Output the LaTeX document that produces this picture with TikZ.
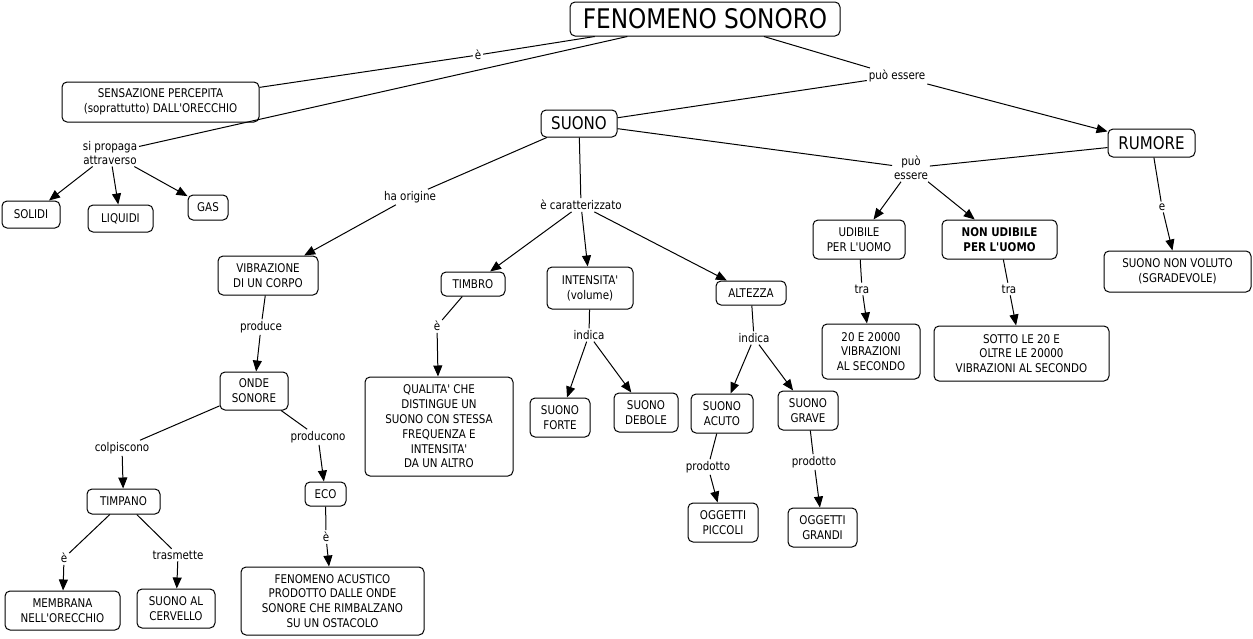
\documentclass[tikz,border=0pt]{standalone}
\usepackage{fontspec}
\setmainfont{DejaVu Sans}[FakeStretch=0.86, Ligatures=TeXOff]
\usetikzlibrary{arrows.meta}
\begin{document}
\begin{tikzpicture}[x=1pt,y=-1pt,line width=1pt,
  concept/.style={draw, rounded corners=5pt, fill=white, align=center, inner sep=1pt,
    font=\fontsize{12}{14.8}\selectfont},
  lbl/.style={inner sep=1.5pt, align=center, font=\fontsize{12}{13.8}\selectfont},
  arr/.style={-{Triangle[length=11pt,width=9pt]}}]
\useasboundingbox (0,0) rectangle (1253,638);
% concepts
\node[concept, minimum width=270, minimum height=34, font=\fontsize{27}{30}\selectfont] (title) at (705,19) {FENOMENO SONORO};
\node[concept, minimum width=197, minimum height=40] (sens) at (160.5,102) {SENSAZIONE PERCEPITA\\(soprattutto) DALL'ORECCHIO};
\node[concept, minimum width=76, minimum height=27, font=\fontsize{17.5}{20}\selectfont] (suono) at (579,123.5) {SUONO};
\node[concept, minimum width=87, minimum height=28, font=\fontsize{17.5}{20}\selectfont] (rumore) at (1151.5,143) {RUMORE};
\node[concept, minimum width=58, minimum height=27] (solidi) at (31,214.5) {SOLIDI};
\node[concept, minimum width=65, minimum height=27] (liquidi) at (120.5,218.5) {LIQUIDI};
\node[concept, minimum width=40, minimum height=25] (gas) at (208,207.5) {GAS};
\node[concept, minimum width=100, minimum height=39] (vibr) at (268,275.5) {VIBRAZIONE\\DI UN CORPO};
\node[concept, minimum width=64, minimum height=24] (timbro) at (473,284) {TIMBRO};
\node[concept, minimum width=86, minimum height=42] (intens) at (590,288) {INTENSITA'\\(volume)};
\node[concept, minimum width=70, minimum height=24] (altezza) at (751,293) {ALTEZZA};
\node[concept, minimum width=92, minimum height=39] (udibile) at (859,239.5) {UDIBILE\\PER L'UOMO};
\node[concept, minimum width=115, minimum height=39, font=\fontsize{12}{14.8}\selectfont\bfseries] (nonud) at (999.5,239.5) {NON UDIBILE\\PER L'UOMO};
\node[concept, minimum width=147, minimum height=41] (sgrad) at (1177.5,271.5) {SUONO NON VOLUTO\\(SGRADEVOLE)};
\node[concept, minimum width=68, minimum height=38] (onde) at (254,391) {ONDE\\SONORE};
\node[concept, minimum width=148, minimum height=99] (qualita) at (439,426.5) {QUALITA' CHE\\DISTINGUE UN\\SUONO CON STESSA\\FREQUENZA E\\INTENSITA'\\DA UN ALTRO};
\node[concept, minimum width=60, minimum height=39] (forte) at (560,417.5) {SUONO\\FORTE};
\node[concept, minimum width=64, minimum height=39] (debole) at (646,412.5) {SUONO\\DEBOLE};
\node[concept, minimum width=62, minimum height=39] (acuto) at (722,413.5) {SUONO\\ACUTO};
\node[concept, minimum width=60, minimum height=39] (grave) at (808,410.5) {SUONO\\GRAVE};
\node[concept, minimum width=98, minimum height=55] (venti) at (871,351.5) {20 E 20000\\VIBRAZIONI\\AL SECONDO};
\node[concept, minimum width=175, minimum height=55] (sotto) at (1021.5,353.5) {SOTTO LE 20 E\\OLTRE LE 20000\\VIBRAZIONI AL SECONDO};
\node[concept, minimum width=73, minimum height=25] (timpano) at (123.5,501.5) {TIMPANO};
\node[concept, minimum width=41, minimum height=24] (eco) at (325.5,494) {ECO};
\node[concept, minimum width=115, minimum height=39] (membrana) at (62.5,610.5) {MEMBRANA\\NELL'ORECCHIO};
\node[concept, minimum width=78, minimum height=39] (cervello) at (176,608.5) {SUONO AL\\CERVELLO};
\node[concept, minimum width=183, minimum height=68] (fenac) at (332.5,601) {FENOMENO ACUSTICO\\PRODOTTO DALLE ONDE\\SONORE CHE RIMBALZANO\\SU UN OSTACOLO};
\node[concept, minimum width=70, minimum height=39] (piccoli) at (723,522.5) {OGGETTI\\PICCOLI};
\node[concept, minimum width=69, minimum height=39] (grandi) at (822.5,527.5) {OGGETTI\\GRANDI};
% linking phrases
\node[lbl] (lE1) at (478,55) {è};
\node[lbl] (lProp) at (110,153) {si propaga\\attraverso};
\node[lbl] (lPuo1) at (897,76) {può essere};
\node[lbl] (lPuo2) at (911,168) {può\\essere};
\node[lbl] (lOrig) at (410,197) {ha origine};
\node[lbl] (lCar) at (581,205) {è caratterizzato};
\node[lbl] (lE2) at (1162,207) {e};
\node[lbl] (lProduce) at (261,327) {produce};
\node[lbl] (lE3) at (437,326) {è};
\node[lbl] (lInd1) at (589,335) {indica};
\node[lbl] (lInd2) at (754,338) {indica};
\node[lbl] (lTra1) at (862,289) {tra};
\node[lbl] (lTra2) at (1009,289) {tra};
\node[lbl] (lColp) at (122,448) {colpiscono};
\node[lbl] (lProducono) at (318,437) {producono};
\node[lbl] (lProd1) at (708,467) {prodotto};
\node[lbl] (lProd2) at (814,462) {prodotto};
\node[lbl] (lE4) at (64,558) {è};
\node[lbl] (lTrasm) at (178,555) {trasmette};
\node[lbl] (lE5) at (326,537) {è};
% connectors
\draw (title) -- (lE1); \draw (lE1) -- (sens);
\draw (title) -- (lProp);
\draw[arr] (lProp) -- (solidi);
\draw[arr] (lProp) -- (liquidi);
\draw[arr] (lProp) -- (gas);
\draw (title) -- (lPuo1); \draw (suono) -- (lPuo1);
\draw[arr] (lPuo1) -- (rumore);
\draw (suono) -- (lPuo2); \draw (rumore) -- (lPuo2);
\draw[arr] (lPuo2) -- (udibile);
\draw[arr] (lPuo2) -- (nonud);
\draw (suono) -- (lOrig); \draw[arr] (lOrig) -- (vibr);
\draw (suono) -- (lCar);
\draw[arr] (lCar) -- (timbro);
\draw[arr] (lCar) -- (intens);
\draw[arr] (lCar) -- (altezza);
\draw (rumore) -- (lE2); \draw[arr] (lE2) -- (sgrad);
\draw (vibr) -- (lProduce); \draw[arr] (lProduce) -- (onde);
\draw (onde) -- (lColp); \draw[arr] (lColp) -- (timpano);
\draw (onde) -- (lProducono); \draw[arr] (lProducono) -- (eco);
\draw (timpano) -- (lE4); \draw[arr] (lE4) -- (membrana);
\draw (timpano) -- (lTrasm); \draw[arr] (lTrasm) -- (cervello);
\draw (eco) -- (lE5); \draw[arr] (lE5) -- (fenac);
\draw (timbro) -- (lE3); \draw[arr] (lE3) -- (qualita);
\draw (intens) -- (lInd1);
\draw[arr] (lInd1) -- (forte);
\draw[arr] (lInd1) -- (debole);
\draw (altezza) -- (lInd2);
\draw[arr] (lInd2) -- (acuto);
\draw[arr] (lInd2) -- (grave);
\draw (acuto) -- (lProd1); \draw[arr] (lProd1) -- (piccoli);
\draw (grave) -- (lProd2); \draw[arr] (lProd2) -- (grandi);
\draw (udibile) -- (lTra1); \draw[arr] (lTra1) -- (venti);
\draw (nonud) -- (lTra2); \draw[arr] (lTra2) -- (sotto);
\end{tikzpicture}
\end{document}
